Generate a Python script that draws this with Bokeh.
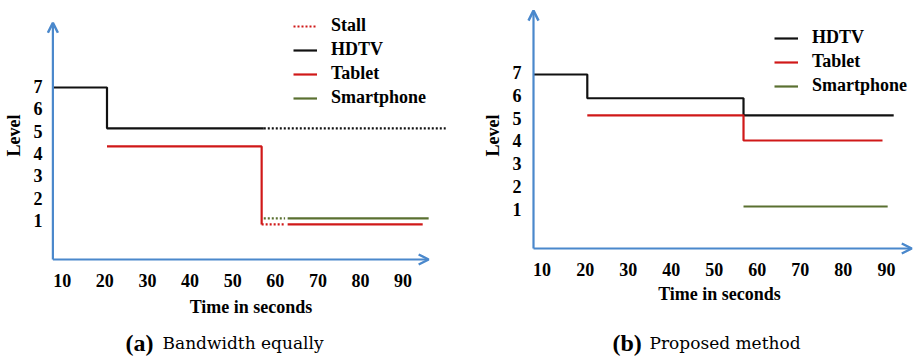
from bokeh.plotting import figure
from bokeh.layouts import row, column
from bokeh.models import (Range1d, FixedTicker, Arrow, OpenHead, Legend,
                          LegendItem, Label)
from bokeh.embed import file_html
from bokeh.resources import INLINE

# ---- data: panel (a) bandwidth shared equally ----
x_ticks = [10, 20, 30, 40, 50, 60, 70, 80, 90]
y_ticks = [1, 2, 3, 4, 5, 6, 7]

a_hdtv_t = [7.8, 20.5, 20.5, 57.3]
a_hdtv_lvl = [6.95, 6.95, 5.12, 5.12]
a_hdtv_stall_t = [57.3, 100.0]
a_hdtv_stall_lvl = [5.12, 5.12]
a_tablet_t = [20.5, 56.8, 56.8]
a_tablet_lvl = [4.31, 4.31, 0.82]
a_tablet_stall_t = [56.8, 62.3]
a_tablet_stall_lvl = [0.82, 0.82]
a_tablet2_t = [62.9, 94.6]
a_tablet2_lvl = [0.82, 0.82]
a_phone_stall_t = [57.3, 62.3]
a_phone_stall_lvl = [1.09, 1.09]
a_phone_t = [62.9, 96.0]
a_phone_lvl = [1.09, 1.09]

# ---- data: panel (b) proposed method ----
b_hdtv_t = [8.0, 20.5, 20.5, 56.8, 56.8, 91.7]
b_hdtv_lvl = [6.91, 6.91, 5.87, 5.87, 5.12, 5.12]
b_tablet_t = [20.5, 56.8, 56.8, 89.1]
b_tablet_lvl = [5.12, 5.12, 4.02, 4.02]
b_phone_t = [56.8, 90.3]
b_phone_lvl = [1.13, 1.13]

BLACK = "#111111"
RED = "#D01818"
GREEN = "#5A7030"
BLUE = "#4A88CC"
SERIF = "Liberation Serif"
PLOT_H = 326
CAP_H = 30
FRAME_BOTTOM = 267   # frame edge sits a little below the drawn x axis


def base_figure(width, x_range, y_range, border_left, border_right,
                x_standoff, x_title_standoff):
    p = figure(width=width, height=PLOT_H, output_backend="svg",
               toolbar_location=None, x_range=Range1d(*x_range),
               y_range=Range1d(*y_range),
               min_border_left=border_left, min_border_right=border_right,
               min_border_top=3, min_border_bottom=PLOT_H - FRAME_BOTTOM)
    p.outline_line_color = None
    p.grid.visible = False
    p.xaxis.ticker = FixedTicker(ticks=x_ticks)
    p.yaxis.ticker = FixedTicker(ticks=y_ticks)
    for ax in (p.xaxis[0], p.yaxis[0]):
        ax.axis_line_color = None
        ax.major_tick_line_color = None
        ax.minor_tick_line_color = None
        ax.major_tick_out = 0
        ax.major_tick_in = 0
        ax.minor_tick_out = 0
        ax.minor_tick_in = 0
        ax.major_label_text_font = SERIF
        ax.major_label_text_font_style = "bold"
        ax.major_label_text_font_size = "18px"
        ax.major_label_text_color = "black"
        ax.axis_label_text_font = SERIF
        ax.axis_label_text_font_style = "bold"
        ax.axis_label_text_font_size = "18px"
        ax.axis_label_text_color = "black"
    p.xaxis.axis_label = "Time in seconds"
    p.yaxis.axis_label = "Level"
    p.xaxis.major_label_standoff = x_standoff
    p.xaxis.axis_label_standoff = x_title_standoff
    p.yaxis.major_label_standoff = 4
    p.yaxis.axis_label_standoff = 7
    return p


def axis_arrows(p, x0, y0, x1, y1):
    for xe, ye in ((x1, y0), (x0, y1)):
        p.add_layout(Arrow(end=OpenHead(size=10, line_color=BLUE,
                                        line_width=2.5),
                           x_start=x0, y_start=y0, x_end=xe, y_end=ye,
                           line_color=BLUE, line_width=2.2))


def caption_figure(width, x, tag, text):
    c = figure(width=width, height=CAP_H, output_backend="svg",
               toolbar_location=None, x_range=Range1d(0, width),
               y_range=Range1d(0, CAP_H), x_axis_location=None,
               y_axis_location=None, min_border=0)
    c.outline_line_color = None
    c.grid.visible = False
    c.add_layout(Label(x=x, y=14, text=tag, text_font=SERIF,
                       text_font_style="bold", text_font_size="24px",
                       text_color="black", text_baseline="alphabetic"))
    c.add_layout(Label(x=x + 37, y=14, text=text, text_font="DejaVu Serif",
                       text_font_size="17px", text_color="black",
                       text_baseline="alphabetic"))
    return c


def style_legend(p, items, loc):
    leg = Legend(items=items, location=loc, padding=0, margin=0,
                 border_line_color=None, background_fill_alpha=0,
                 glyph_width=24, glyph_height=20, label_height=20,
                 label_standoff=14, spacing=3,
                 label_text_font=SERIF, label_text_font_style="bold",
                 label_text_font_size="18px", label_text_color="black")
    p.add_layout(leg)


# ---- panel (a) ----
pa = base_figure(460, (6.3, 102.3), (-1.108, 10.71), 44, 5, 6, 7)
axis_arrows(pa, 7.8, -0.75, 96.0, 9.85)
r_a_hdtv = pa.line(a_hdtv_t, a_hdtv_lvl, line_color=BLACK, line_width=2.2)
pa.line(a_hdtv_stall_t, a_hdtv_stall_lvl, line_color=BLACK, line_width=2.2,
        line_dash="2 2")
r_a_tab = pa.line(a_tablet_t, a_tablet_lvl, line_color=RED, line_width=2.2)
r_a_stall = pa.line(a_tablet_stall_t, a_tablet_stall_lvl, line_color=RED,
                    line_width=2.2, line_dash="2 2")
pa.line(a_tablet2_t, a_tablet2_lvl, line_color=RED, line_width=2.2)
pa.line(a_phone_stall_t, a_phone_stall_lvl, line_color=GREEN, line_width=2.2,
        line_dash="2 2")
r_a_phone = pa.line(a_phone_t, a_phone_lvl, line_color=GREEN, line_width=2.2)
style_legend(pa, [LegendItem(label="Stall", renderers=[r_a_stall]),
                  LegendItem(label="HDTV", renderers=[r_a_hdtv]),
                  LegendItem(label="Tablet", renderers=[r_a_tab]),
                  LegendItem(label="Smartphone", renderers=[r_a_phone])],
             (247, 159))

# ---- panel (b): x axis sits well above the frame's bottom edge ----
pb = base_figure(453, (6.14, 96.3), (-1.542, 10.02), 65, 0, -5, 5)
axis_arrows(pb, 8.0, -0.71, 95.9, 9.71)
r_b_hdtv = pb.line(b_hdtv_t, b_hdtv_lvl, line_color=BLACK, line_width=2.2)
r_b_tab = pb.line(b_tablet_t, b_tablet_lvl, line_color=RED, line_width=2.2)
r_b_phone = pb.line(b_phone_t, b_phone_lvl, line_color=GREEN, line_width=2.2)
style_legend(pb, [LegendItem(label="HDTV", renderers=[r_b_hdtv]),
                  LegendItem(label="Tablet", renderers=[r_b_tab]),
                  LegendItem(label="Smartphone", renderers=[r_b_phone])],
             (249, 171))

# ---- sub-figure captions ----
ca = caption_figure(460, 125, "(a)", "Bandwidth equally")
cb = caption_figure(453, 152, "(b)", "Proposed method")

layout = column(row(pa, pb, spacing=0), row(ca, cb, spacing=0), spacing=0)
open("out.html", "w").write(file_html(layout, INLINE))
